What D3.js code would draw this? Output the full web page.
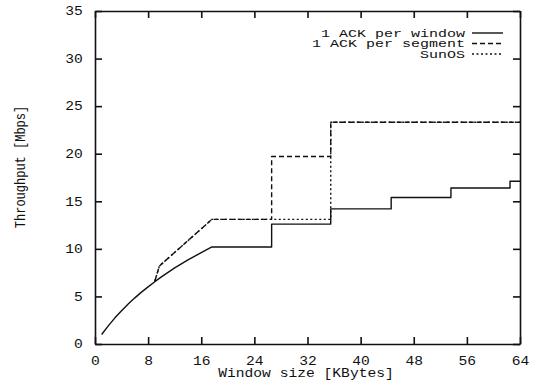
<!DOCTYPE html>
<html>
    <head>
        <title>Throughput vs window size</title>
        <script src="https://d3js.org/d3.v7.min.js"></script>
        <style>
            body { margin: 0; background: #fff; }
            text { font-family: "Courier New", "Liberation Mono", monospace; fill: #111; }
        </style>
    </head>
    <body>
        <div id="chart"></div>
        <script>
            // window size [KBytes] / throughput [Mbps]
            var perWindowX = [1, 2, 3, 4, 5, 6, 7, 8, 9, 10, 12, 14, 16, 17.6,
                26.6, 26.6, 35.5, 35.5, 44.6, 44.6, 53.6, 53.6, 62.5, 62.5, 64];
            var perWindowY = [1.0, 1.9, 2.75, 3.5, 4.2, 4.85, 5.45, 6.0, 6.55, 7.05, 8.0, 8.85, 9.6, 10.2,
                10.2, 12.6, 12.6, 14.2, 14.2, 15.4, 15.4, 16.4, 16.4, 17.1, 17.1];

            var perSegmentX = [9.0, 9.7, 17.6, 26.6, 26.6, 35.5, 35.5, 64];
            var perSegmentY = [6.6, 8.2, 13.1, 13.1, 19.7, 19.7, 23.3, 23.3];

            var sunosX = [9.0, 9.7, 17.6, 35.5, 35.5, 64];
            var sunosY = [6.6, 8.2, 13.1, 13.1, 23.3, 23.3];

            var xTicks = [0, 8, 16, 24, 32, 40, 48, 56, 64];
            var yTicks = [0, 5, 10, 15, 20, 25, 30, 35];

            var legendNames = ['1 ACK per window', '1 ACK per segment', 'SunOS'];
            var legendDash = ['none', '5,3', '2,2.5'];

            var width = 533, height = 383;
            var plotLeft = 95, plotRight = 520, plotTop = 11, plotBottom = 344;
            var stretch = 1.22;

            var svg = d3.select('#chart').append('svg')
                .attr('width', width)
                .attr('height', height);

            var x = d3.scaleLinear().domain([0, 64]).range([plotLeft, plotRight]);
            var y = d3.scaleLinear().domain([0, 35]).range([plotBottom, plotTop]);

            function styleAxis(g) {
                g.selectAll('path, line').attr('stroke', '#111').attr('stroke-width', 1.6);
                g.selectAll('text')
                    .style('font-size', '12px')
                    .attr('transform', 'scale(' + stretch + ',1)');
            }

            svg.append('g')
                .attr('transform', 'translate(0,' + plotBottom + ')')
                .call(d3.axisBottom(x).tickValues(xTicks).tickSize(-7).tickSizeOuter(0).tickPadding(12))
                .call(styleAxis);

            svg.append('g')
                .attr('transform', 'translate(' + plotLeft + ',0)')
                .call(d3.axisLeft(y).tickValues(yTicks).tickSize(-7).tickSizeOuter(0).tickPadding(10))
                .call(styleAxis);

            svg.append('g')
                .attr('transform', 'translate(0,' + plotTop + ')')
                .call(d3.axisTop(x).tickValues(xTicks).tickSize(-7).tickSizeOuter(0).tickFormat(''))
                .call(styleAxis);

            svg.append('g')
                .attr('transform', 'translate(' + plotRight + ',0)')
                .call(d3.axisRight(y).tickValues(yTicks).tickSize(-7).tickSizeOuter(0).tickFormat(''))
                .call(styleAxis);

            // axis titles
            svg.append('text')
                .attr('transform', 'translate(306,377) scale(' + stretch + ',1)')
                .attr('text-anchor', 'middle')
                .style('font-size', '12px')
                .text('Window size [KBytes]');

            svg.append('text')
                .attr('transform', 'translate(25,167) rotate(-90) scale(1,' + stretch + ')')
                .attr('text-anchor', 'middle')
                .style('font-size', '12px')
                .text('Throughput [Mbps]');

            var line = d3.line()
                .x(function (d) { return x(d[0]); })
                .y(function (d) { return y(d[1]); });

            var series = [
                d3.zip(perWindowX, perWindowY),
                d3.zip(perSegmentX, perSegmentY),
                d3.zip(sunosX, sunosY)
            ];

            svg.selectAll('path.series')
                .data(series)
                .enter()
                .append('path')
                .attr('class', 'series')
                .attr('d', line)
                .attr('fill', 'none')
                .attr('stroke', '#111')
                .attr('stroke-width', 1.4)
                .attr('stroke-linejoin', 'round')
                .attr('stroke-dasharray', function (d, i) { return legendDash[i]; });

            // legend
            var legend = svg.selectAll('g.legend')
                .data(legendNames)
                .enter()
                .append('g')
                .attr('class', 'legend')
                .attr('transform', function (d, i) { return 'translate(0,' + (36.5 + i * 10.5) + ')'; });

            legend.append('text')
                .attr('transform', 'translate(465,0) scale(1.5,1)')
                .attr('text-anchor', 'end')
                .style('font-size', '10px')
                .text(function (d) { return d; });

            legend.append('line')
                .attr('x1', 472)
                .attr('x2', 503)
                .attr('y1', -3.5)
                .attr('y2', -3.5)
                .attr('stroke', '#111')
                .attr('stroke-width', 1.4)
                .attr('stroke-dasharray', function (d, i) { return legendDash[i]; });
        </script>
    </body>
</html>
